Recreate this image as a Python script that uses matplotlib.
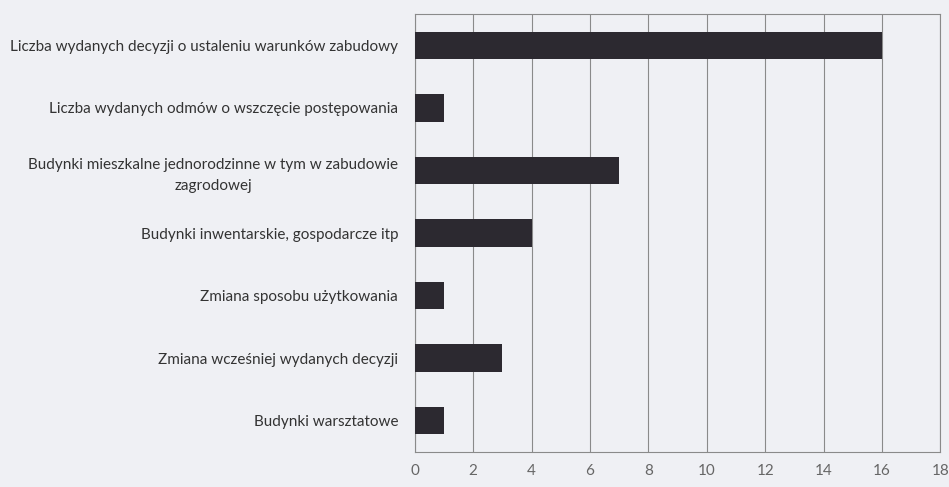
import matplotlib
matplotlib.use("Agg")
import matplotlib.pyplot as plt

# values
categories = [
    "Liczba wydanych decyzji o ustaleniu warunków zabudowy",
    "Liczba wydanych odmów o wszczęcie postępowania",
    "Budynki mieszkalne jednorodzinne w tym w zabudowie\nzagrodowej",
    "Budynki inwentarskie, gospodarcze itp",
    "Zmiana sposobu użytkowania",
    "Zmiana wcześniej wydanych decyzji",
    "Budynki warsztatowe",
]
values = [16, 1, 7, 4, 1, 3, 1]
xticks = list(range(0, 19, 2))

bg = "#eff0f4"
plt.rcParams["font.family"] = ["Lato", "DejaVu Sans"]

fig = plt.figure(figsize=(9.49, 4.87), dpi=100, facecolor=bg)
ax = fig.add_axes([0.437, 0.072, 0.554, 0.899], facecolor=bg)

pos = list(range(len(categories)))
ax.barh(pos, values, height=0.44, color="#2c2930", zorder=3)

ax.set_ylim(len(categories) - 0.5, -0.5)
ax.set_xlim(0, 18)
ax.set_xticks(xticks)
ax.set_yticks(pos)
ax.set_yticklabels(categories, fontsize=11, color="#333333")
for lab in ax.get_yticklabels():
    lab.set_multialignment("center")
    lab.set_linespacing(1.6)
ax.tick_params(axis="y", length=0, pad=12)
ax.tick_params(axis="x", length=0, pad=9, labelsize=11, labelcolor="#666666")

ax.grid(axis="x", color="#8a8a8a", linewidth=0.8, zorder=0)
for s in ax.spines.values():
    s.set_color("#8a8a8a")
    s.set_linewidth(0.8)

fig.savefig("out.png", dpi=100, facecolor=bg)
